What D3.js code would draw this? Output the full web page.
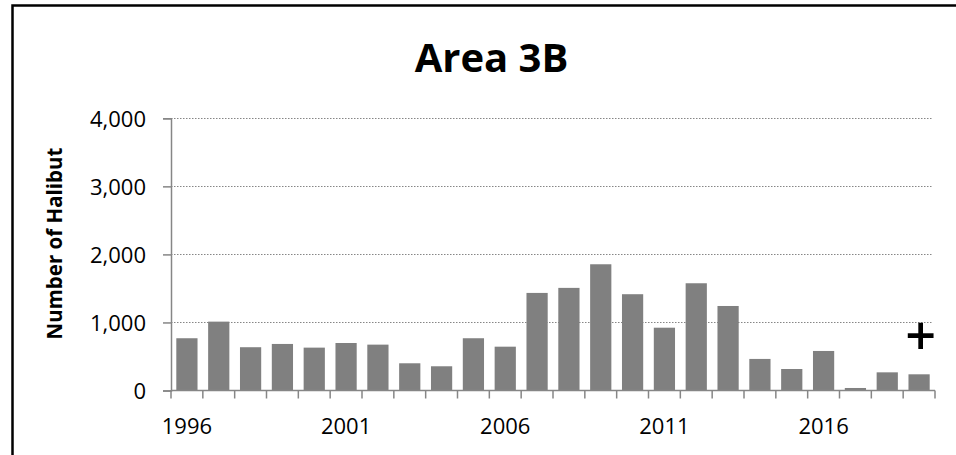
<!DOCTYPE html>
<html>
<head>
<meta charset="utf-8">
<script src="https://cdn.jsdelivr.net/npm/d3@7/dist/d3.min.js"></script>
<style>
  html, body { margin: 0; padding: 0; background: #fff; }
  svg { display: block; }
</style>
</head>
<body>
<svg id="chart" width="956" height="455"></svg>
<script>
// ---- data ----
const title = "Area 3B";
const yAxisTitle = "Number of Halibut";
const years = [1996, 1997, 1998, 1999, 2000, 2001, 2002, 2003, 2004, 2005, 2006, 2007,
               2008, 2009, 2010, 2011, 2012, 2013, 2014, 2015, 2016, 2017, 2018, 2019];
const halibut = [768, 1012, 636, 684, 630, 698, 674, 400, 356, 768, 644, 1434,
                 1508, 1855, 1415, 923, 1576, 1242, 464, 316, 581, 37, 267, 238];
const yTicks = [0, 1000, 2000, 3000, 4000];
const xTickLabels = [1996, 2001, 2006, 2011, 2016];
const annotationYear = [2019];
const annotationValue = [810];
const annotationText = ["+"];

// ---- layout ----
const svg = d3.select("#chart");
const plot = { left: 171, right: 935, top: 118.3, bottom: 390.5 };
const font = "'Open Sans', 'Liberation Sans', sans-serif";
const axisGray = "#868686";

const x = d3.scaleBand().domain(years).range([plot.left, plot.right]).paddingInner(1/3).paddingOuter(1/6);
const xBand = d3.scaleBand().domain(years).range([plot.left, plot.right]);
const y = d3.scaleLinear().domain([0, 4000]).range([plot.bottom, plot.top]);

// outer frame (extends beyond the visible image on right and bottom)
svg.append("rect")
  .attr("x", 12.5).attr("y", 5.5).attr("width", 1000).attr("height", 500)
  .attr("fill", "none").attr("stroke", "#000").attr("stroke-width", 2.5);

// title
svg.append("text")
  .attr("x", 491.5).attr("y", 71.5)
  .attr("text-anchor", "middle")
  .attr("font-family", font).attr("font-weight", 700).attr("font-size", 40)
  .attr("fill", "#000")
  .text(title);

// gridlines
svg.append("g").selectAll("line")
  .data(yTicks.filter(d => d > 0))
  .join("line")
  .attr("x1", plot.left).attr("x2", plot.right - 2)
  .attr("y1", d => Math.round(y(d)) + 0.5).attr("y2", d => Math.round(y(d)) + 0.5)
  .attr("stroke", axisGray).attr("stroke-width", 1)
  .attr("stroke-dasharray", "1.5,1.5");

// bars
svg.append("g").selectAll("rect")
  .data(years.map((yr, i) => ({ yr, v: halibut[i] })))
  .join("rect")
  .attr("x", d => x(d.yr))
  .attr("width", x.bandwidth())
  .attr("y", d => y(d.v))
  .attr("height", d => y(0) - y(d.v))
  .attr("fill", "#808080");

// y axis
const yAxis = d3.axisLeft(y).tickValues(yTicks).tickSize(8).tickPadding(17)
  .tickFormat(d3.format(","));
const gy = svg.append("g").attr("transform", `translate(${plot.left},0)`).call(yAxis);
gy.select(".domain").attr("stroke", axisGray).attr("stroke-width", 1.5);
gy.selectAll(".tick line").attr("stroke", axisGray).attr("stroke-width", 1.5);
gy.selectAll(".tick text")
  .attr("font-family", font).attr("font-size", 22).attr("fill", "#000")
  .attr("dy", "0.36em");

// x axis (ticks at category boundaries)
const gx = svg.append("g").attr("transform", `translate(0,${plot.bottom})`);
gx.append("line")
  .attr("x1", plot.left).attr("x2", plot.right)
  .attr("y1", 0).attr("y2", 0)
  .attr("stroke", axisGray).attr("stroke-width", 1.5);
const boundaries = years.map(yr => xBand(yr)).concat([plot.right]);
gx.selectAll("line.tk")
  .data(boundaries)
  .join("line").attr("class", "tk")
  .attr("x1", d => d).attr("x2", d => d)
  .attr("y1", 0).attr("y2", 8)
  .attr("stroke", axisGray).attr("stroke-width", 1.5);
gx.selectAll("text")
  .data(xTickLabels)
  .join("text")
  .attr("x", d => x(d) + x.bandwidth() / 2)
  .attr("y", 43)
  .attr("text-anchor", "middle")
  .attr("font-family", font).attr("font-size", 22).attr("fill", "#000")
  .text(d => d);

// y axis title
svg.append("text")
  .attr("transform", `translate(62,243.5) rotate(-90)`)
  .attr("text-anchor", "middle")
  .attr("font-family", font).attr("font-weight", 700).attr("font-size", 20.5)
  .attr("fill", "#000")
  .text(yAxisTitle);

// annotation
svg.append("g").selectAll("text")
  .data(annotationYear.map((yr, i) => ({ yr, v: annotationValue[i], t: annotationText[i] })))
  .join("text")
  .attr("x", d => x(d.yr) + x.bandwidth() / 2 + 1.5)
  .attr("y", d => y(d.v))
  .attr("dy", "0.36em")
  .attr("text-anchor", "middle")
  .attr("font-family", font).attr("font-weight", 600).attr("font-size", 54)
  .attr("fill", "#000")
  .text(d => d.t);
</script>
</body>
</html>
